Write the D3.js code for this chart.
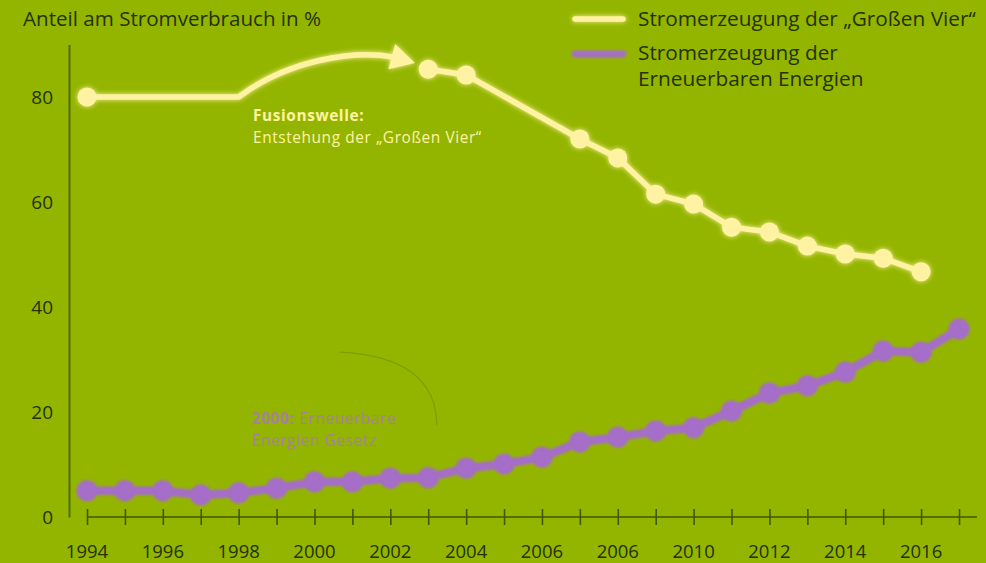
<!DOCTYPE html>
<meta charset="utf-8">
<style>
  body { margin: 0; background: #94b500; }
  text { font-family: "Open Sans", sans-serif; }
</style>
<body>
<script src="https://d3js.org/d3.v7.min.js"></script>
<script>

var width = 986,
    height = 563;

// Stromerzeugung der "Großen Vier" (Anteil in %)
var bigFourYears  = [1994, 2003, 2004, 2007, 2008, 2009, 2010, 2011, 2012, 2013, 2014, 2015, 2016];
var bigFourValues = [80, 85.3, 84.2, 72.0, 68.4, 61.5, 59.6, 55.2, 54.3, 51.6, 50.1, 49.3, 46.7];

// Stromerzeugung der Erneuerbaren Energien (Anteil in %)
var renewYears  = d3.range(1994, 2018);
var renewValues = [5.0, 5.0, 5.0, 4.2, 4.6, 5.5, 6.7, 6.7, 7.4, 7.5, 9.3, 10.1,
                   11.4, 14.3, 15.2, 16.4, 17.0, 20.2, 23.6, 25.0, 27.6, 31.6, 31.4, 35.8];

var yTicks = [0, 20, 40, 60, 80];
var xLabelYears = [1994, 1996, 1998, 2000, 2002, 2004, 2006, 2008, 2010, 2012, 2014, 2016];
var xLabels = ["1994", "1996", "1998", "2000", "2002", "2004", "2006", "2006", "2010", "2012", "2014", "2016"];

var yellow = "#fff3a3",
    purple = "#a56ec8",
    ink = "#233200";

var x = d3.scaleLinear().domain([1994, 2017]).range([87, 959]);
var y = d3.scaleLinear().domain([0, 90]).range([517, 44.5]);

var svg = d3.select("body").append("svg")
    .attr("width", width)
    .attr("height", height);

var defs = svg.append("defs");

// filters in user space so thin horizontal lines still get them
function makeFilter(id, sd, keepSource) {
  var f = defs.append("filter").attr("id", id)
      .attr("filterUnits", "userSpaceOnUse")
      .attr("x", 0).attr("y", 0).attr("width", width).attr("height", height);
  f.append("feGaussianBlur").attr("in", "SourceGraphic").attr("stdDeviation", sd).attr("result", "b");
  var m = f.append("feMerge");
  m.append("feMergeNode").attr("in", "b");
  m.append("feMergeNode").attr("in", keepSource ? "SourceGraphic" : "b");
}
makeFilter("glow", 2.5, true);
makeFilter("soft", 1.6, false);

// title
svg.append("text")
    .attr("x", 23).attr("y", 26)
    .attr("fill", ink)
    .style("font-size", "20.6px")
    .text("Anteil am Stromverbrauch in %");

// y axis
var yAxis = svg.append("g")
    .attr("transform", "translate(69,0)")
    .call(d3.axisLeft(y).tickValues(yTicks).tickSize(0).tickSizeOuter(0).tickPadding(16));
yAxis.select(".domain").attr("stroke", "#4d6c00").attr("stroke-width", 2);
yAxis.selectAll("text")
    .attr("fill", ink)
    .style("font-size", "19px")
    .style("font-family", "'Open Sans', sans-serif");

// x axis with ticks crossing the line
var xAxis = svg.append("g")
    .attr("transform", "translate(0," + y(0) + ")")
    .call(d3.axisBottom(x).tickValues(renewYears).tickFormat("").tickSizeOuter(0));
xAxis.select(".domain")
    .attr("d", "M" + x.range()[0] + ",0H977")
    .attr("stroke", "#3f5800").attr("stroke-width", 1.6);
xAxis.selectAll(".tick line")
    .attr("y1", -8).attr("y2", 8)
    .attr("stroke", "#3f5800").attr("stroke-width", 1.6);

svg.append("g").selectAll("text")
    .data(xLabelYears)
    .enter().append("text")
    .attr("x", function(d) { return x(d); })
    .attr("y", 558)
    .attr("text-anchor", "middle")
    .attr("fill", ink)
    .style("font-size", "18.5px")
    .text(function(d, i) { return xLabels[i]; });

// faint arc behind the renewables note
svg.append("path")
    .attr("d", "M" + x(2000.67) + "," + y(31.4) + " Q" + x(2003.2) + "," + y(30.5) + " " + x(2003.23) + "," + y(17.5))
    .attr("fill", "none")
    .attr("stroke", "#6a8800")
    .attr("stroke-opacity", 0.5)
    .attr("stroke-width", 1.2);

// renewables series
var renew = renewYears.map(function(d, i) { return {year: d, value: renewValues[i]}; });
var gRenew = svg.append("g").attr("filter", "url(#soft)");
gRenew.append("path")
    .datum(renew)
    .attr("fill", "none")
    .attr("stroke", purple)
    .attr("stroke-width", 7)
    .attr("d", d3.line().x(function(d) { return x(d.year); }).y(function(d) { return y(d.value); }));
gRenew.selectAll("circle")
    .data(renew)
    .enter().append("circle")
    .attr("cx", function(d) { return x(d.year); })
    .attr("cy", function(d) { return y(d.value); })
    .attr("r", 10)
    .attr("fill", purple);

// "Große Vier" series
var big = bigFourYears.map(function(d, i) { return {year: d, value: bigFourValues[i]}; });
var gBig = svg.append("g").attr("filter", "url(#glow)");

// Fusionswelle arrow: flat run from 1994, then bending up into an arrow
var x0 = x(big[0].year), y0 = y(big[0].value);
var tipX = x(2002.65), tipY = y(86.5);
var ang = 15 * Math.PI / 180;
var bx = tipX - 24 * Math.cos(ang), by = tipY - 24 * Math.sin(ang);
gBig.append("path")
    .attr("d", "M" + x0 + "," + y0 + " L" + x(1998) + "," + y0 +
      " C" + x(1999.3) + "," + y(87) + " " + x(2001) + "," + y(89) + " " + (bx + 2) + "," + (by + 0.5))
    .attr("fill", "none")
    .attr("stroke", yellow)
    .attr("stroke-width", 5.5);
gBig.append("path")
    .attr("d", "M" + tipX + "," + tipY +
      " L" + (bx - 13 * Math.sin(ang)) + "," + (by + 13 * Math.cos(ang)) +
      " L" + (bx + 13 * Math.sin(ang)) + "," + (by - 13 * Math.cos(ang)) + "Z")
    .attr("fill", yellow);

gBig.append("path")
    .datum(big.slice(1))
    .attr("fill", "none")
    .attr("stroke", yellow)
    .attr("stroke-width", 5.5)
    .attr("d", d3.line().x(function(d) { return x(d.year); }).y(function(d) { return y(d.value); }));
gBig.selectAll("circle")
    .data(big)
    .enter().append("circle")
    .attr("cx", function(d) { return x(d.year); })
    .attr("cy", function(d) { return y(d.value); })
    .attr("r", 9.5)
    .attr("fill", yellow);

// annotations, one text per line
var noteSize = "15.4px", noteSpacing = "0.6px";
svg.append("text").attr("x", 253).attr("y", 121)
    .attr("fill", yellow).style("font-size", noteSize).style("letter-spacing", noteSpacing)
    .style("font-weight", "bold")
    .text("Fusionswelle:");
svg.append("text").attr("x", 253).attr("y", 142.5)
    .attr("fill", yellow).style("font-size", noteSize).style("letter-spacing", noteSpacing)
    .text("Entstehung der \u201EGroßen Vier\u201C");

var noteColor = "#a874c4";
var n2a = svg.append("text").attr("x", 252).attr("y", 424)
    .attr("fill", noteColor).attr("opacity", 0.85)
    .style("font-size", noteSize).style("letter-spacing", noteSpacing).style("font-weight", "bold")
    .text("2000:");
svg.append("text").attr("x", 252 + n2a.node().getComputedTextLength() + 5).attr("y", 424)
    .attr("fill", noteColor).attr("opacity", 0.85)
    .style("font-size", noteSize).style("letter-spacing", noteSpacing)
    .text("Erneuerbare");
svg.append("text").attr("x", 252).attr("y", 445.5)
    .attr("fill", noteColor).attr("opacity", 0.85)
    .style("font-size", noteSize).style("letter-spacing", noteSpacing)
    .text("Energien Gesetz");

// legend
var legend = svg.append("g");
legend.append("line")
    .attr("x1", 575).attr("x2", 623).attr("y1", 19).attr("y2", 19)
    .attr("stroke", yellow).attr("stroke-width", 5.5).attr("stroke-linecap", "round")
    .attr("filter", "url(#glow)");
legend.append("line")
    .attr("x1", 575).attr("x2", 623).attr("y1", 54).attr("y2", 54)
    .attr("stroke", purple).attr("stroke-width", 5.5).attr("stroke-linecap", "round")
    .attr("filter", "url(#soft)");
legend.append("text")
    .attr("x", 638).attr("y", 26)
    .attr("fill", ink).style("font-size", "20.8px")
    .text("Stromerzeugung der \u201EGroßen Vier\u201C");
legend.append("text").attr("x", 638).attr("y", 60)
    .attr("fill", ink).style("font-size", "20.8px")
    .text("Stromerzeugung der");
legend.append("text").attr("x", 638).attr("y", 86)
    .attr("fill", ink).style("font-size", "20.8px")
    .text("Erneuerbaren Energien");

</script>
